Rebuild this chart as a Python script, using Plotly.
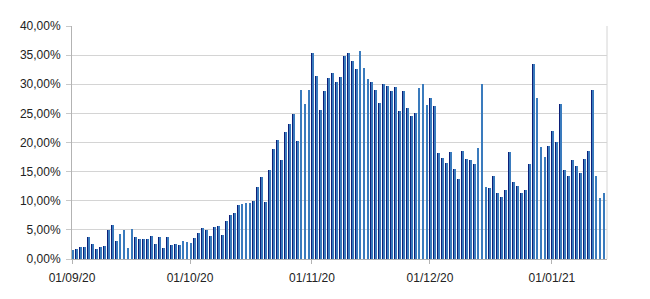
import plotly.graph_objects as go
import pandas as pd

# Daily values (%)
sep_vals = [1.6, 1.8, 2.0, 2.1, 3.7, 2.5, 1.8, 2.0, 2.3, 4.9,
            5.8, 3.1, 4.3, 5.0, 1.9, 5.1, 3.8, 3.4, 3.4, 3.4,
            4.0, 2.6, 3.8, 1.9, 3.7, 2.4, 2.6, 2.35, 3.05, 2.95]
oct_vals = [2.7, 3.6, 4.5, 5.3, 4.9, 3.9, 5.5, 5.7, 4.1, 6.6,
            7.5, 7.9, 9.2, 9.4, 9.6, 9.6, 9.9, 12.3, 14.1, 9.8,
            15.3, 18.8, 20.4, 17.0, 21.8, 23.1, 24.9, 20.3, 29.0, 26.6,
            29.0]
nov_vals = [35.3, 31.5, 25.6, 28.8, 31.0, 31.9, 30.4, 31.3, 34.9, 35.3,
            34.0, 32.6, 35.7, 32.8, 30.9, 30.4, 29.0, 26.8, 30.1, 29.7,
            28.8, 29.5, 25.4, 28.8, 26.0, 24.5, 25.1, 29.3, 30.0, 26.4]
dec_vals = [27.7, 26.3, 18.2, 17.3, 16.4, 18.3, 15.5, 13.8, 18.5, 17.1,
            17.0, 16.3, 19.1, 30.0, 12.3, 12.2, 14.3, 11.4, 10.7, 11.9,
            18.3, 13.2, 12.5, 11.4, 11.9, 16.3, 33.5, 27.7, 19.2, 17.5,
            19.4]
jan_vals = [21.9, 20.1, 26.6, 15.3, 14.2, 17.0, 15.9, 14.8, 17.1, 18.5,
            29.0, 14.2, 10.5, 11.3]

values = sep_vals + oct_vals + nov_vals + dec_vals + jan_vals
start_date = "2020-09-01"
dates = pd.date_range(start_date, periods=len(values), freq="D")

tick_dates = ["2020-09-01", "2020-10-01", "2020-11-01", "2020-12-01", "2021-01-01"]
tick_labels = ["01/09/20", "01/10/20", "01/11/20", "01/12/20", "01/01/21"]
y_ticks = [0, 5, 10, 15, 20, 25, 30, 35, 40]
y_tick_labels = ["0,00%", "5,00%", "10,00%", "15,00%", "20,00%",
                 "25,00%", "30,00%", "35,00%", "40,00%"]

DAY = 86400000

fig = go.Figure()
# two-tone bars: dark left edge, lighter blue right part
fig.add_trace(go.Bar(x=dates, y=values, width=0.2 * DAY, offset=0,
                     marker=dict(color="#0c1f78", line=dict(width=0)),
                     hoverinfo="skip", showlegend=False))
fig.add_trace(go.Bar(x=dates, y=values, width=0.28 * DAY, offset=0.2 * DAY,
                     marker=dict(color="#3a7bbd", line=dict(width=0)),
                     showlegend=False))

fig.update_layout(
    width=650, height=299,
    margin=dict(l=72, r=43, t=26, b=40),
    paper_bgcolor="white", plot_bgcolor="white",
    barmode="overlay", bargap=0,
    font=dict(family="Liberation Sans, Arial, sans-serif", size=12, color="#222222"),
)
fig.update_xaxes(
    type="date",
    range=["2020-09-01", "2021-01-15"],
    tickvals=tick_dates, ticktext=tick_labels,
    ticks="outside", ticklen=4, tickcolor="#b3b3b3",
    showgrid=False,
    showline=True, linecolor="#b3b3b3", linewidth=1,
    mirror=False, ticklabelstandoff=4,
)
fig.update_yaxes(
    range=[0, 40],
    tickvals=y_ticks, ticktext=y_tick_labels,
    ticks="outside", ticklen=5, tickcolor="#c8c8c8",
    showgrid=True, gridcolor="#d4d4d4", gridwidth=1,
    showline=True, linecolor="#b3b3b3", linewidth=1,
    zeroline=False, ticklabelstandoff=3,
)
# right border of plot area
fig.add_shape(type="line", xref="paper", yref="paper", x0=1, x1=1, y0=0, y1=1,
              line=dict(color="#d4d4d4", width=1))

fig.write_html("out.html")
